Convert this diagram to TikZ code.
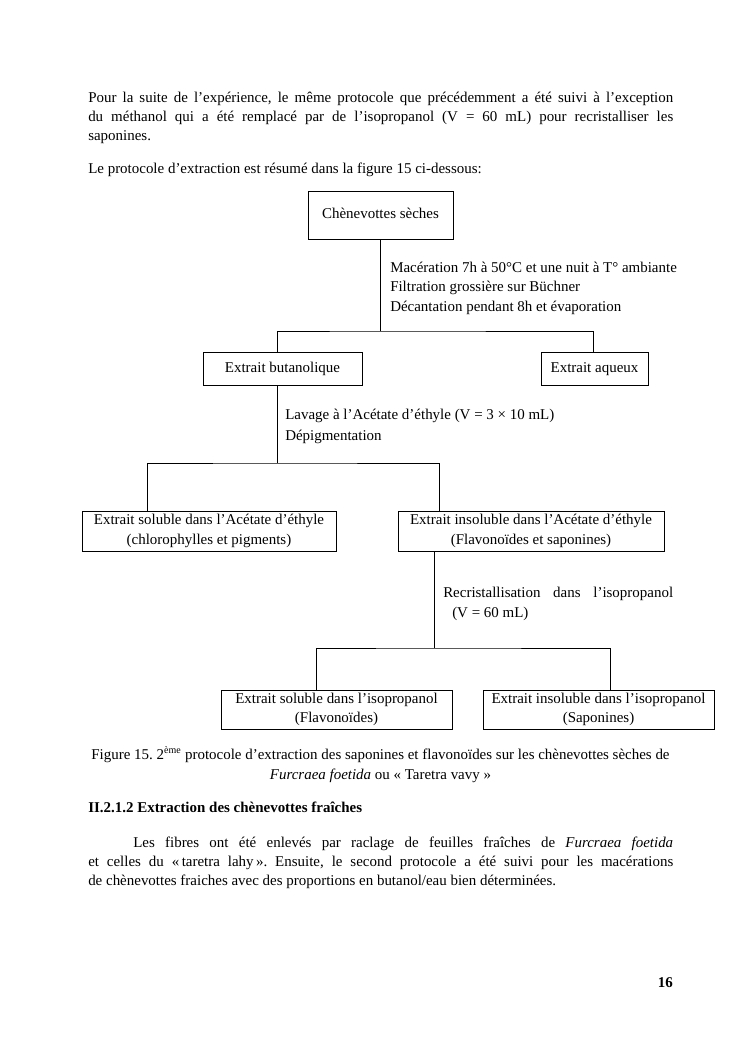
\documentclass[tikz,border=0pt]{standalone}
\usepackage{fontspec}
\setmainfont{Liberation Serif}
\usetikzlibrary{calc}
\frenchspacing
\newcommand\jusline[2]{\makebox[#1][s]{#2}}
\begin{document}
\frenchspacing
\begin{tikzpicture}[x=0.28188mm, y=-0.28188mm,
  font=\fontsize{12}{15.5}\selectfont,
  box/.style={draw, line width=0.6pt, inner sep=0pt, align=center},
  txt/.style={anchor=base west, inner sep=0pt},
  ln/.style={line width=0.6pt}]
\useasboundingbox (0,0) rectangle (745,1053);
\fill[white] (0,0) rectangle (745,1053);

% body text above the figure
\node[txt] (p1a) at (88,103) {\jusline{164.9mm}{Pour la suite de l’expérience, le même protocole que précédemment a été suivi à l’exception}};
\node[txt] (p1b) at (88,122) {\jusline{164.9mm}{du méthanol qui a été remplacé par de l’isopropanol (V = 60 mL) pour recristalliser les}};
\node[txt] (p1c) at (88,141) {saponines.};
\node[txt] (p2) at (88,174) {Le protocole d’extraction est résumé dans la figure 15 ci-dessous:};

% boxes
\node[box, minimum width=40.9mm, minimum height=13.5mm] (chen) at (380.5,215) {\strut Chènevottes sèches};
\node[box, minimum width=44.8mm, minimum height=9.3mm] (but) at (282.5,368.5) {\strut Extrait butanolique};
\node[box, minimum width=30.2mm, minimum height=9.3mm] (aq) at (594.5,368.5) {\strut Extrait aqueux};
\node[box, minimum width=71.6mm, minimum height=11.3mm] (solA) at (209,531) {Extrait soluble dans l’Acétate d’éthyle\\(chlorophylles et pigments)};
\node[box, minimum width=75.0mm, minimum height=11.3mm] (insA) at (531,531) {Extrait insoluble dans l’Acétate d’éthyle\\(Flavonoïdes et saponines)};
\node[box, minimum width=65.1mm, minimum height=11.0mm] (solI) at (336.5,709.5) {Extrait soluble dans l’isopropanol\\(Flavonoïdes)};
\node[box, minimum width=65.1mm, minimum height=11.0mm] (insI) at (598.5,709.5) {Extrait insoluble dans l’isopropanol\\(Saponines)};

% step labels
\node[txt] (m1) at (390,272) {Macération 7h à 50°C et une nuit à T° ambiante};
\node[txt] (m2) at (390,291.5) {Filtration grossière sur Büchner};
\node[txt] (m3) at (390,311) {Décantation pendant 8h et évaporation};
\node[txt] (l1) at (285,419) {Lavage à l’Acétate d’éthyle (V = 3 × 10 mL)};
\node[txt] (l2) at (285,440) {Dépigmentation};
\node[txt] (r1) at (443,597) {\jusline{64.8mm}{Recristallisation dans l’isopropanol}};
\node[txt] (r2) at (452,617) {(V = 60 mL)};

% connectors
\coordinate (j1) at (380.5,331);
\coordinate (j2) at (277,463);
\coordinate (j3) at (434,648);
\draw[ln] (chen.south) -- (j1);
\draw[ln] ($(but.north)+(-5.5,0)$) |- (j1) -| ($(aq.north)+(-1.5,0)$);
\draw[ln] ($(but.south)+(-5.5,0)$) -- (j2);
\draw[ln] ($(solA.north)+(-62,0)$) |- (j2) -| ($(insA.north)+(-92,0)$);
\draw[ln] ($(insA.south)+(-97,0)$) -- (j3);
\draw[ln] ($(solI.north)+(-20,0)$) |- (j3) -| ($(insI.north)+(12,0)$);

% caption
\node[anchor=base, inner sep=0pt] (cap1) at (380.5,759) {Figure 15. 2\textsuperscript{ème} protocole d’extraction des saponines et flavonoïdes sur les chènevottes sèches de};
\node[anchor=base, inner sep=0pt] (cap2) at (380.5,779) {\textit{Furcraea foetida} ou «~Taretra vavy~»};

% following section
\node[txt, font=\fontsize{12}{15.5}\selectfont\bfseries] (h) at (88,812) {II.2.1.2 Extraction des chènevottes fraîches};
\node[txt] (q1) at (133,847) {\jusline{152.2mm}{Les fibres ont été enlevés par raclage de feuilles fraîches de \textit{Furcraea foetida}}};
\node[txt] (q2) at (88,866) {\jusline{164.9mm}{et celles du «\,taretra lahy\,». Ensuite, le second protocole a été suivi pour les macérations}};
\node[txt] (q3) at (88,885) {de chènevottes fraiches avec des proportions en butanol/eau bien déterminées.};
\node[anchor=base east, inner sep=0pt, font=\fontsize{12}{15.5}\selectfont\bfseries] (pg) at (673,987) {16};
\end{tikzpicture}
\end{document}
